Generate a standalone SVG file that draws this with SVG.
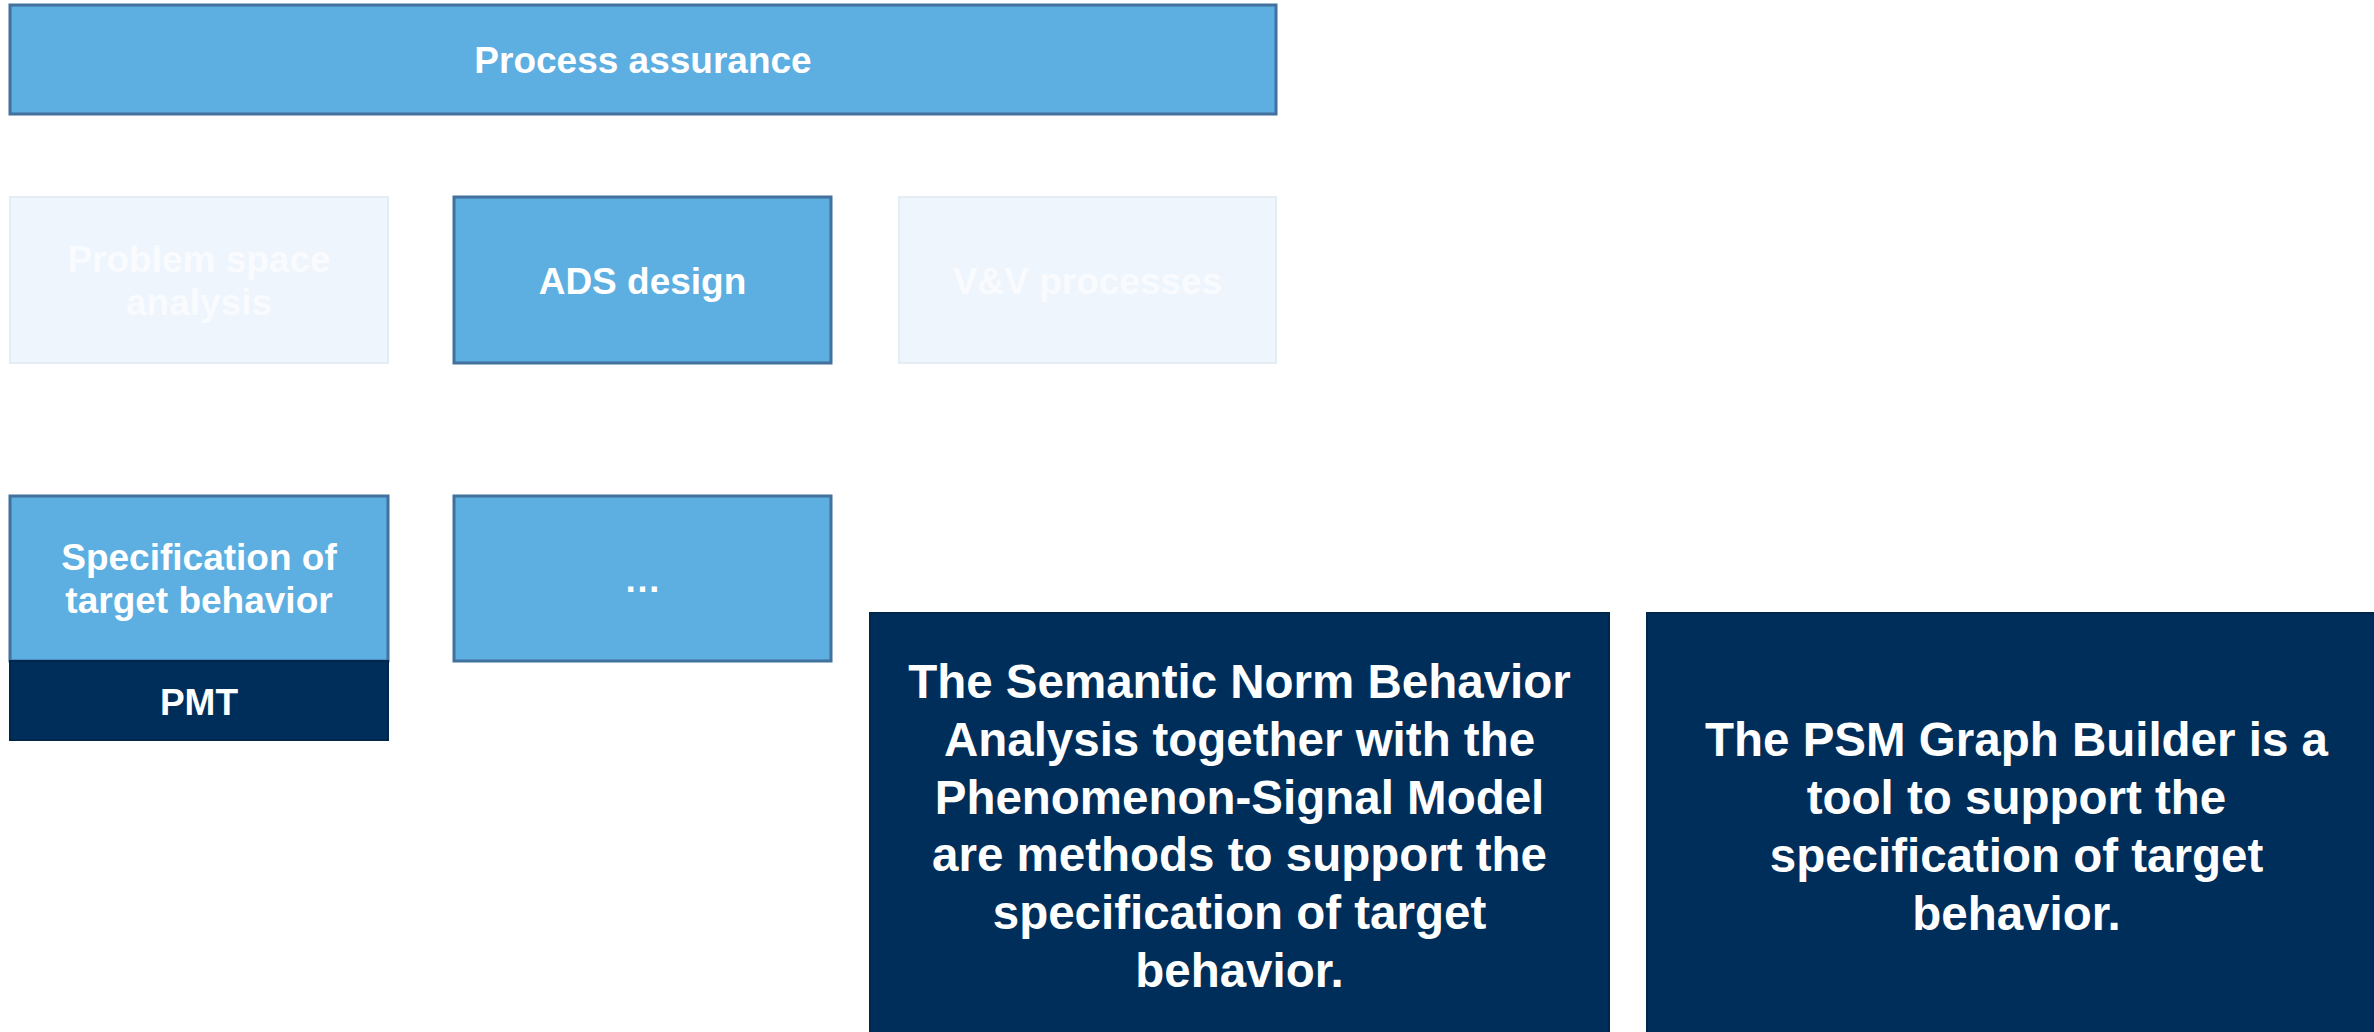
<svg xmlns="http://www.w3.org/2000/svg" width="2374" height="1032" viewBox="0 0 2374 1032">
<style>
.blue{fill:#5DAEE1;stroke:#41719C;stroke-width:3}
.pale{fill:#EEF5FC;stroke:#E4ECF4;stroke-width:2}
.navy{fill:#002E5A;stroke:#00264C;stroke-width:2}
text{font-family:"Liberation Sans",Arial,sans-serif;font-weight:bold;fill:#FFFFFF;text-anchor:middle}
.t{font-size:37px}
.big{font-size:47.5px}
.ghost{fill:#F9FBFE}
</style>
<rect width="2374" height="1032" fill="#FFFFFF"/>
<g id="process-assurance">
<rect class="blue" x="10" y="5" width="1266" height="109"/>
<text class="t" x="643" y="73">Process assurance</text>
</g>
<g id="problem-space-analysis">
<rect class="pale" x="10" y="197" width="378" height="166"/>
<text class="t ghost" x="199" y="272">Problem space</text>
<text class="t ghost" x="199" y="315">analysis</text>
</g>
<g id="ads-design">
<rect class="blue" x="454" y="197" width="377" height="166"/>
<text class="t" x="642.5" y="294">ADS design</text>
</g>
<g id="vv-processes">
<rect class="pale" x="899" y="197" width="377" height="166"/>
<text class="t ghost" x="1087.5" y="294">V&amp;V processes</text>
</g>
<g id="specification">
<rect class="blue" x="10" y="496" width="378" height="165"/>
<text class="t" x="199" y="570">Specification of</text>
<text class="t" x="199" y="613">target behavior</text>
</g>
<g id="pmt">
<rect class="navy" x="10" y="661" width="378" height="79"/>
<text class="t" x="199" y="715">PMT</text>
</g>
<g id="ellipsis">
<rect class="blue" x="454" y="496" width="377" height="165"/>
<text class="t" x="642.5" y="592">…</text>
</g>
<g id="snba-note">
<rect class="navy" x="870" y="613" width="739" height="430"/>
<text class="big" x="1239.5" y="698">The Semantic Norm Behavior</text>
<text class="big" x="1239.5" y="756">Analysis together with the</text>
<text class="big" x="1239.5" y="814">Phenomenon-Signal Model</text>
<text class="big" x="1239.5" y="871">are methods to support the</text>
<text class="big" x="1239.5" y="929">specification of target</text>
<text class="big" x="1239.5" y="987">behavior.</text>
</g>
<g id="psm-note">
<rect class="navy" x="1647" y="613" width="739" height="430"/>
<text class="big" x="2016.5" y="756">The PSM Graph Builder is a</text>
<text class="big" x="2016.5" y="814">tool to support the</text>
<text class="big" x="2016.5" y="872">specification of target</text>
<text class="big" x="2016.5" y="930">behavior.</text>
</g>
<g id="connectors"/>
</svg>
